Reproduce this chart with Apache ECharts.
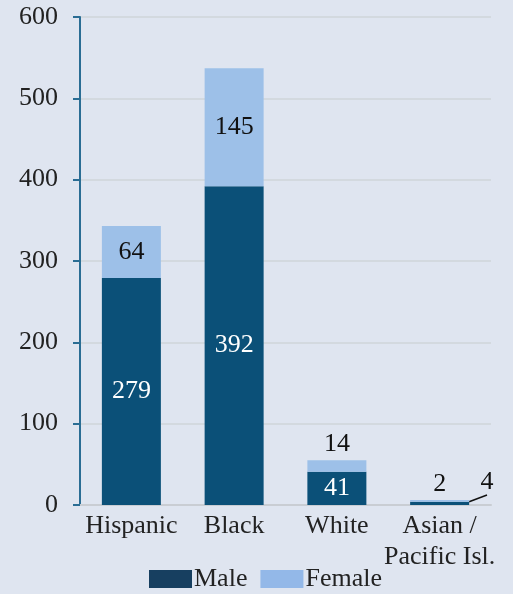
<!DOCTYPE html>
<html><head><meta charset="utf-8">
<script src="https://cdn.jsdelivr.net/npm/echarts@6/dist/echarts.min.js"></script>
<style>html,body{margin:0;padding:0;background:#dfe5f0;}#c{width:513px;height:594px;}</style>
</head><body><div id="c"></div>
<script>
const categories = ['Hispanic', 'Black', 'White', 'Asian /\nPacific Isl.'];
const male = [279, 392, 41, 4];
const female = [64, 145, 14, 2];
const yTicks = [0, 100, 200, 300, 400, 500, 600];

const serif = 'Liberation Serif';
const chart = echarts.init(document.getElementById('c'));
chart.setOption({
  backgroundColor: '#dfe5f0',
  animation: false,
  grid: {left: 80, right: 22, top: 17, bottom: 89},
  legend: {
    top: 566, left: 149, padding: 0, itemGap: 13, itemWidth: 43, itemHeight: 18, icon: 'rect',
    itemStyle: {borderWidth: 0},
    textStyle: {fontFamily: serif, fontSize: 26, color: '#222', padding: [3, 0, 0, -3]},
    data: [{name: 'Male', itemStyle: {color: '#173f60'}}, {name: 'Female', itemStyle: {color: '#93b8e8'}}]
  },
  xAxis: {
    type: 'category', data: categories,
    axisLine: {lineStyle: {color: '#c9cdd3', width: 2}},
    axisTick: {show: false},
    axisLabel: {interval: 0, fontFamily: serif, fontSize: 26, color: '#222', lineHeight: 31, margin: 6}
  },
  yAxis: {
    type: 'value', min: 0, max: 600, interval: 100,
    axisLine: {show: true, lineStyle: {color: '#2a6d94', width: 2}},
    axisTick: {show: true, length: 7, lineStyle: {color: '#2a6d94', width: 2}},
    splitLine: {lineStyle: {color: '#cfd4da', width: 1.5}},
    axisLabel: {fontFamily: serif, fontSize: 26, color: '#222', margin: 22,
      formatter: v => yTicks.includes(v) ? String(v) : ''}
  },
  series: [
    {
      name: 'Male', type: 'bar', stack: 'a', barWidth: 59,
      itemStyle: {color: '#0b5078'},
      label: {show: true, position: 'inside', color: '#fff', fontFamily: serif, fontSize: 26},
      labelLine: {show: true, lineStyle: {color: '#111', width: 1.5}},
      labelLayout: function (p) {
        if (p.dataIndex === 3) return {x: 487, y: 482, align: 'center', verticalAlign: 'middle'};
        return {};
      },
      data: male.map((v, i) => i === 3 ? {value: v, label: {color: '#111', position: 'right'}} : v)
    },
    {
      name: 'Female', type: 'bar', stack: 'a', barWidth: 59,
      itemStyle: {color: '#9dc0e8'},
      label: {show: true, position: 'inside', color: '#111', fontFamily: serif, fontSize: 26},
      data: female.map((v, i) => i >= 2 ? {value: v, label: {position: 'top', distance: 3}} : v)
    }
  ]
});
</script></body></html>
